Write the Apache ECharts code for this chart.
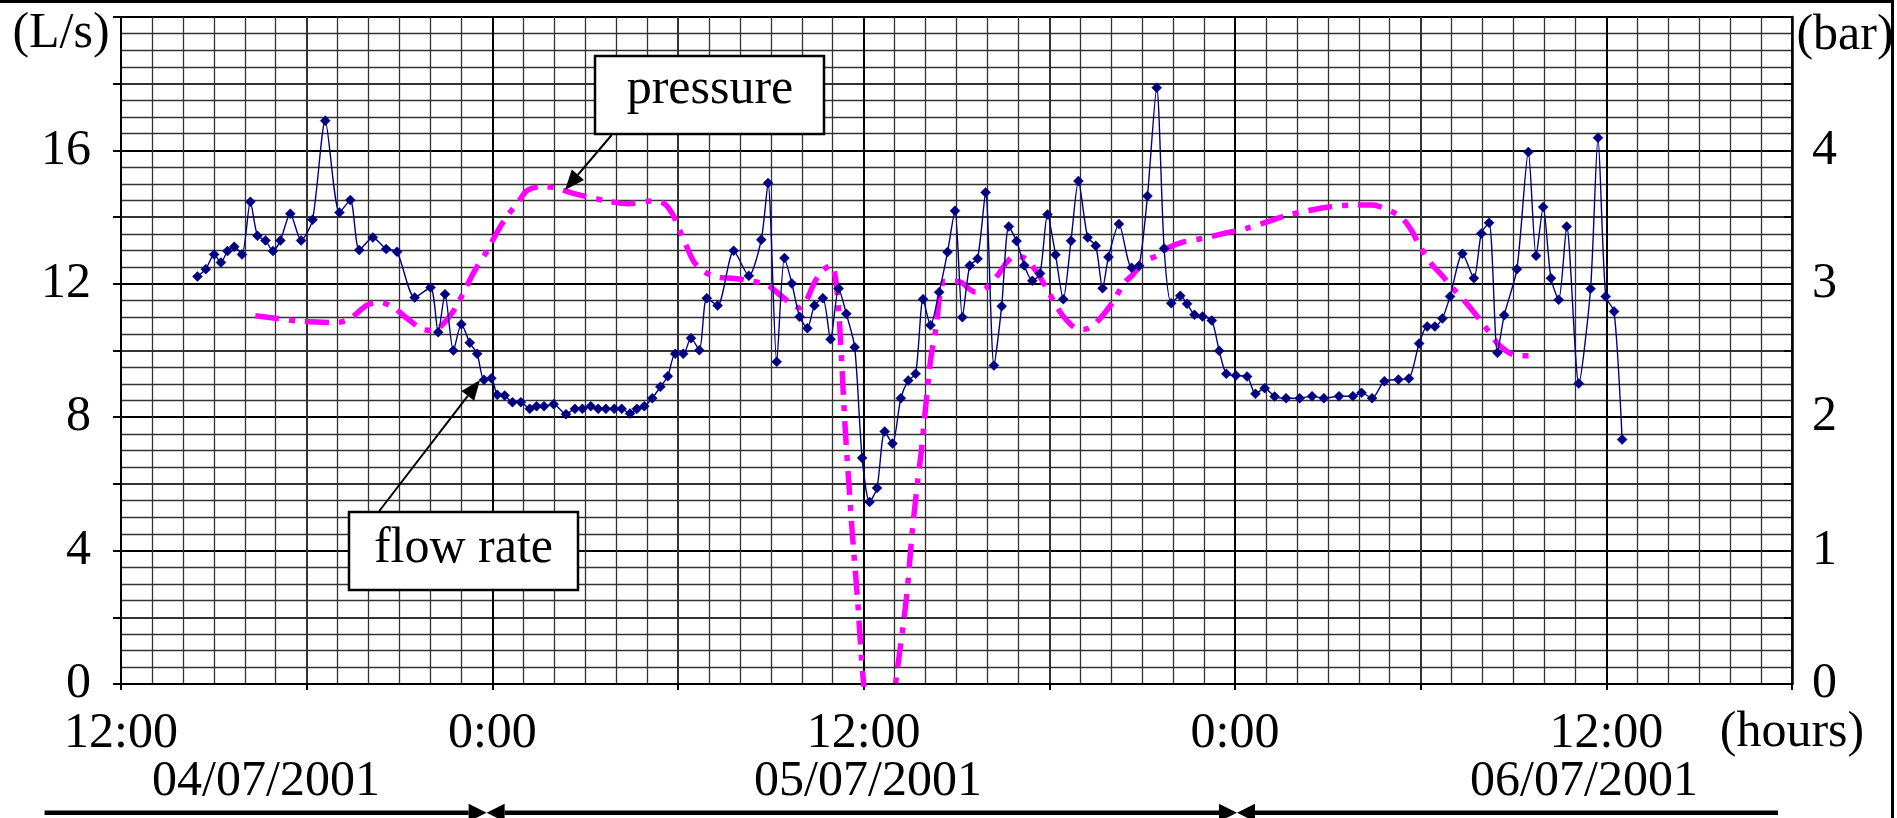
<!DOCTYPE html>
<html>
<head>
<meta charset="utf-8">
<script src="https://cdn.jsdelivr.net/npm/echarts@6/dist/echarts.min.js"></script>
<style>
  html, body { margin: 0; padding: 0; background: #fff; }
  #chart { width: 1897px; height: 818px; }
</style>
</head>
<body>
<div id="chart"></div>
<script>
// hours counted from 12:00 on 04/07/2001
var flowHours = [2.47, 2.74, 3.01, 3.23, 3.44, 3.66, 3.91, 4.18, 4.41, 4.67, 4.91, 5.15, 5.47, 5.82, 6.19, 6.60,
  7.06, 7.41, 7.70, 8.14, 8.57, 8.92, 9.49, 10.00, 10.25, 10.47, 10.74, 11.00, 11.27, 11.51, 11.73, 11.97,
  12.16, 12.40, 12.65, 12.92, 13.21, 13.43, 13.67, 13.98, 14.38, 14.67, 14.91, 15.18, 15.42, 15.67, 15.94, 16.18,
  16.45, 16.67, 16.91, 17.17, 17.43, 17.67, 17.91, 18.17, 18.42, 18.69, 18.93, 19.28, 19.80, 20.29, 20.69, 20.91,
  21.19, 21.44, 21.68, 21.93, 22.18, 22.41, 22.68, 22.93, 23.19, 23.44, 23.71, 23.95, 24.19, 24.43, 24.68, 24.93,
  25.20, 25.44, 25.68, 25.92, 26.16, 26.44, 26.71, 26.95, 27.19, 27.43, 27.68, 27.94, 28.21, 28.46, 28.69, 28.94,
  29.19, 29.45, 29.70, 29.94, 30.20, 30.45, 30.70, 30.94, 31.24, 31.50, 31.72, 31.91, 32.25, 32.66, 32.90, 33.17,
  33.47, 33.71, 33.94, 34.23, 34.45, 34.69, 34.95, 35.25, 35.49, 35.72, 36.03, 36.39, 36.66, 36.96, 37.28, 37.65,
  38.09, 38.49, 38.87, 39.36, 39.81, 40.09, 40.43, 40.83, 41.28, 41.62, 41.95, 42.21, 42.46, 42.70, 42.95, 43.35,
  43.72, 43.96, 44.21, 44.48, 44.70, 45.11, 45.48, 45.73, 45.96, 46.21, 46.46, 46.72, 47.11, 47.49, 47.73, 47.98,
  48.25, 48.51];
var flowValues = [12.22, 12.44, 12.88, 12.64, 12.98, 13.11, 12.88, 14.46, 13.44, 13.30, 12.98, 13.30, 14.10, 13.30, 13.92, 16.89,
  14.14, 14.51, 13.01, 13.39, 13.04, 12.96, 11.59, 11.89, 10.55, 11.69, 10.00, 10.79, 10.23, 9.90, 9.12, 9.17,
  8.67, 8.65, 8.45, 8.45, 8.25, 8.33, 8.33, 8.39, 8.09, 8.25, 8.25, 8.33, 8.25, 8.25, 8.25, 8.25,
  8.11, 8.25, 8.33, 8.57, 8.91, 9.23, 9.90, 9.90, 10.37, 10.01, 11.57, 11.35, 12.99, 12.24, 13.32, 15.02,
  9.66, 12.77, 12.01, 11.01, 10.67, 11.35, 11.57, 10.34, 11.86, 11.10, 10.10, 6.78, 5.46, 5.88, 7.57, 7.21,
  8.57, 9.10, 9.30, 11.54, 10.76, 11.75, 12.95, 14.19, 11.00, 12.55, 12.75, 14.74, 9.55, 11.33, 13.72, 13.28,
  12.55, 12.09, 12.31, 14.08, 12.87, 11.54, 13.29, 15.08, 13.39, 13.14, 11.87, 12.80, 13.79, 12.48, 12.54, 14.63,
  17.88, 13.06, 11.42, 11.64, 11.40, 11.07, 11.02, 10.90, 9.99, 9.30, 9.25, 9.22, 8.70, 8.87, 8.62, 8.57,
  8.57, 8.63, 8.57, 8.63, 8.63, 8.73, 8.57, 9.08, 9.13, 9.16, 10.21, 10.72, 10.72, 10.96, 11.62, 12.90,
  12.17, 13.51, 13.83, 9.93, 11.06, 12.44, 15.95, 12.84, 14.30, 12.17, 11.52, 13.72, 9.01, 11.85, 16.38, 11.62,
  11.17, 7.33];

var pressHours = [4.34, 5.04, 5.79, 6.98, 7.41, 7.95, 8.38, 8.82, 9.25, 9.73, 10.11, 10.49, 10.81, 11.08, 11.41, 11.84,
  12.16, 12.49, 12.86, 13.13, 13.62, 14.00, 14.75, 15.72, 16.37, 17.12, 17.56, 17.83, 18.04, 18.26, 18.53, 18.85,
  19.28, 19.82, 20.36, 20.90, 21.28, 21.66, 21.93, 22.14, 22.41, 22.68, 22.95, 23.11, 23.25, 23.34, 23.41, 23.52,
  23.63, 23.80, 24.00, 24.50, 25.03, 25.38, 25.57, 25.74, 25.87, 26.03, 26.17, 26.35, 26.46, 26.62, 26.89, 27.16,
  27.59, 27.92, 28.35, 28.62, 28.89, 29.22, 29.43, 29.70, 29.97, 30.29, 30.51, 30.83, 31.15, 31.42, 31.75, 32.07,
  32.40, 32.66, 33.10, 33.47, 33.85, 34.28, 34.93, 35.68, 36.44, 36.98, 37.63, 38.38, 39.14, 39.79, 40.43, 41.08,
  41.41, 41.73, 41.95, 42.35, 42.70, 43.03, 43.46, 43.95, 44.27, 44.54, 44.97, 45.29, 45.72];
var pressValues = [2.76, 2.74, 2.72, 2.71, 2.74, 2.84, 2.86, 2.82, 2.74, 2.66, 2.65, 2.72, 2.82, 2.94, 3.09, 3.25,
  3.39, 3.51, 3.62, 3.70, 3.73, 3.72, 3.67, 3.62, 3.60, 3.62, 3.60, 3.52, 3.41, 3.29, 3.16, 3.09,
  3.05, 3.04, 3.02, 2.99, 2.92, 2.85, 2.82, 2.87, 3.01, 3.10, 3.14, 3.01, 2.59, 2.19, 1.89, 1.51,
  1.14, 0.64, 0.00, -1.00, 0.00, 0.64, 1.14, 1.51, 1.76, 2.14, 2.44, 2.69, 2.91, 3.02, 3.02, 3.01,
  2.94, 2.96, 3.07, 3.16, 3.21, 3.19, 3.14, 3.05, 2.94, 2.81, 2.74, 2.67, 2.66, 2.69, 2.77, 2.87,
  3.00, 3.06, 3.17, 3.21, 3.27, 3.31, 3.34, 3.38, 3.42, 3.46, 3.51, 3.55, 3.58, 3.59, 3.59, 3.54,
  3.49, 3.39, 3.29, 3.15, 3.06, 2.97, 2.86, 2.72, 2.62, 2.54, 2.47, 2.46, 2.46];

var timeTicks = [0, 12, 24, 36, 48];
var timeLabels = ['12:00', '0:00', '12:00', '0:00', '12:00'];
var dayLabels = ['04/07/2001', '05/07/2001', '06/07/2001'];

var FONT = '"Liberation Serif", "Times New Roman", serif';

function pairs(xs, ys) {
  return xs.map(function (x, i) { return [x, ys[i]]; });
}

function headPoints(tx, ty, fx, fy, len, half) {
  var dx = tx - fx, dy = ty - fy, d = Math.sqrt(dx * dx + dy * dy);
  var ux = dx / d, uy = dy / d;
  var bx = tx - ux * len, by = ty - uy * len;
  return [[tx, ty], [bx - uy * half, by + ux * half], [bx + uy * half, by - ux * half]];
}

// straight arrow with a filled head at (tx, ty)
function arrow(fx, fy, tx, ty, len, half, lw) {
  var pts = headPoints(tx, ty, fx, fy, len, half);
  var bx = (pts[1][0] + pts[2][0]) / 2, by = (pts[1][1] + pts[2][1]) / 2;
  return [
    { type: 'line', z: 100, shape: { x1: fx, y1: fy, x2: bx, y2: by }, style: { stroke: '#000', lineWidth: lw } },
    { type: 'polygon', z: 100, shape: { points: pts }, style: { fill: '#000' } }
  ];
}

function text(str, x, y) {
  return { type: 'text', z: 101, x: x, y: y,
    style: { text: str, font: '50px ' + FONT, fill: '#000', align: 'center', verticalAlign: 'middle' } };
}

function box(x, y, w, h) {
  return { type: 'rect', z: 100, shape: { x: x, y: y, width: w, height: h },
    style: { fill: '#fff', stroke: '#000', lineWidth: 2.5 } };
}

var graphics = [
  { type: 'polyline', z: 100, shape: { points: [[0, 1.5], [1892.5, 1.5], [1892.5, 818]] },
    style: { stroke: '#000', lineWidth: 3, fill: null } },
  text('(L/s)', 61, 34),
  text('(bar)', 1845, 36),
  text('(hours)', 1792, 733),
  text(dayLabels[0], 266, 782),
  text(dayLabels[1], 868, 782),
  text(dayLabels[2], 1584, 782),
  box(595, 56, 229, 78),
  text('pressure', 710, 90),
  box(349, 512, 229, 78),
  text('flow rate', 463.5, 549)
];
graphics = graphics
  .concat(arrow(611.7, 135, 565, 190, 20, 8, 2))
  .concat(arrow(379.3, 511, 480, 380, 20, 8, 2))
  // day spans under the time axis
  .concat(arrow(44.6, 812.7, 486.6, 812.7, 18, 9, 4.5))
  .concat(arrow(862, 812.7, 486.6, 812.7, 18, 9, 4.5))
  .concat(arrow(862, 812.7, 1237, 812.7, 18, 9, 4.5))
  .concat(arrow(1778, 812.7, 1237, 812.7, 18, 9, 4.5));

var chart = echarts.init(document.getElementById('chart'), null, { renderer: 'canvas' });

var option = {
  backgroundColor: '#fff',
  animation: false,
  grid: { left: 121, top: 17, width: 1671, height: 667 },
  xAxis: {
    type: 'value', min: 0, max: 54, interval: 6,
    axisLine: { show: true, onZero: false, lineStyle: { color: '#000', width: 2 } },
    axisTick: { show: true, length: 6, lineStyle: { color: '#000', width: 2 } },
    axisLabel: {
      margin: 25, fontSize: 50, fontFamily: FONT, color: '#000',
      formatter: function (v) {
        var i = timeTicks.indexOf(v);
        return i >= 0 ? timeLabels[i] : '';
      }
    },
    splitLine: { show: true, lineStyle: { color: ['#000', '#333'], width: 2 } },
    minorTick: { show: false, splitNumber: 6 },
    minorSplitLine: { show: true, lineStyle: { color: '#333', width: 1.3 } }
  },
  yAxis: [{
    type: 'value', min: 0, max: 20, interval: 2, position: 'left',
    axisLine: { show: true, lineStyle: { color: '#000', width: 2 } },
    axisTick: { show: true, length: 8, lineStyle: { color: '#000', width: 2 } },
    axisLabel: {
      margin: 30, fontSize: 50, fontFamily: FONT, color: '#000',
      formatter: function (v) { return (v % 4 === 0 && v < 20) ? String(v) : ''; }
    },
    splitLine: { show: true, lineStyle: { color: ['#000', '#333'], width: 2 } },
    minorTick: { show: false, splitNumber: 4 },
    minorSplitLine: { show: true, lineStyle: { color: '#333', width: 1.3 } }
  }, {
    type: 'value', min: 0, max: 5, interval: 0.5, position: 'right',
    axisLine: { show: true, lineStyle: { color: '#000', width: 2.5 } },
    axisTick: { show: true, inside: true, length: 8, lineStyle: { color: '#000', width: 2 } },
    axisLabel: {
      margin: 20, fontSize: 50, fontFamily: FONT, color: '#000',
      formatter: function (v) { return (v % 1 === 0 && v < 5) ? String(v) : ''; }
    },
    splitLine: { show: false }
  }],
  series: [{
    name: 'pressure',
    type: 'line',
    yAxisIndex: 1,
    data: pairs(pressHours, pressValues),
    smooth: 0.3,
    symbol: 'none',
    clip: true,
    lineStyle: { color: '#ff00ff', width: 5.5, type: [24, 10, 6, 10], cap: 'butt' },
    z: 3
  }, {
    name: 'flow rate',
    type: 'line',
    yAxisIndex: 0,
    data: pairs(flowHours, flowValues),
    smooth: 0.25,
    symbol: 'diamond',
    symbolSize: 10,
    itemStyle: { color: '#000080', borderColor: '#000080', borderWidth: 0.5 },
    lineStyle: { color: '#000080', width: 1.4 },
    z: 4
  }],
  graphic: graphics
};

chart.setOption(option);
</script>
</body>
</html>
